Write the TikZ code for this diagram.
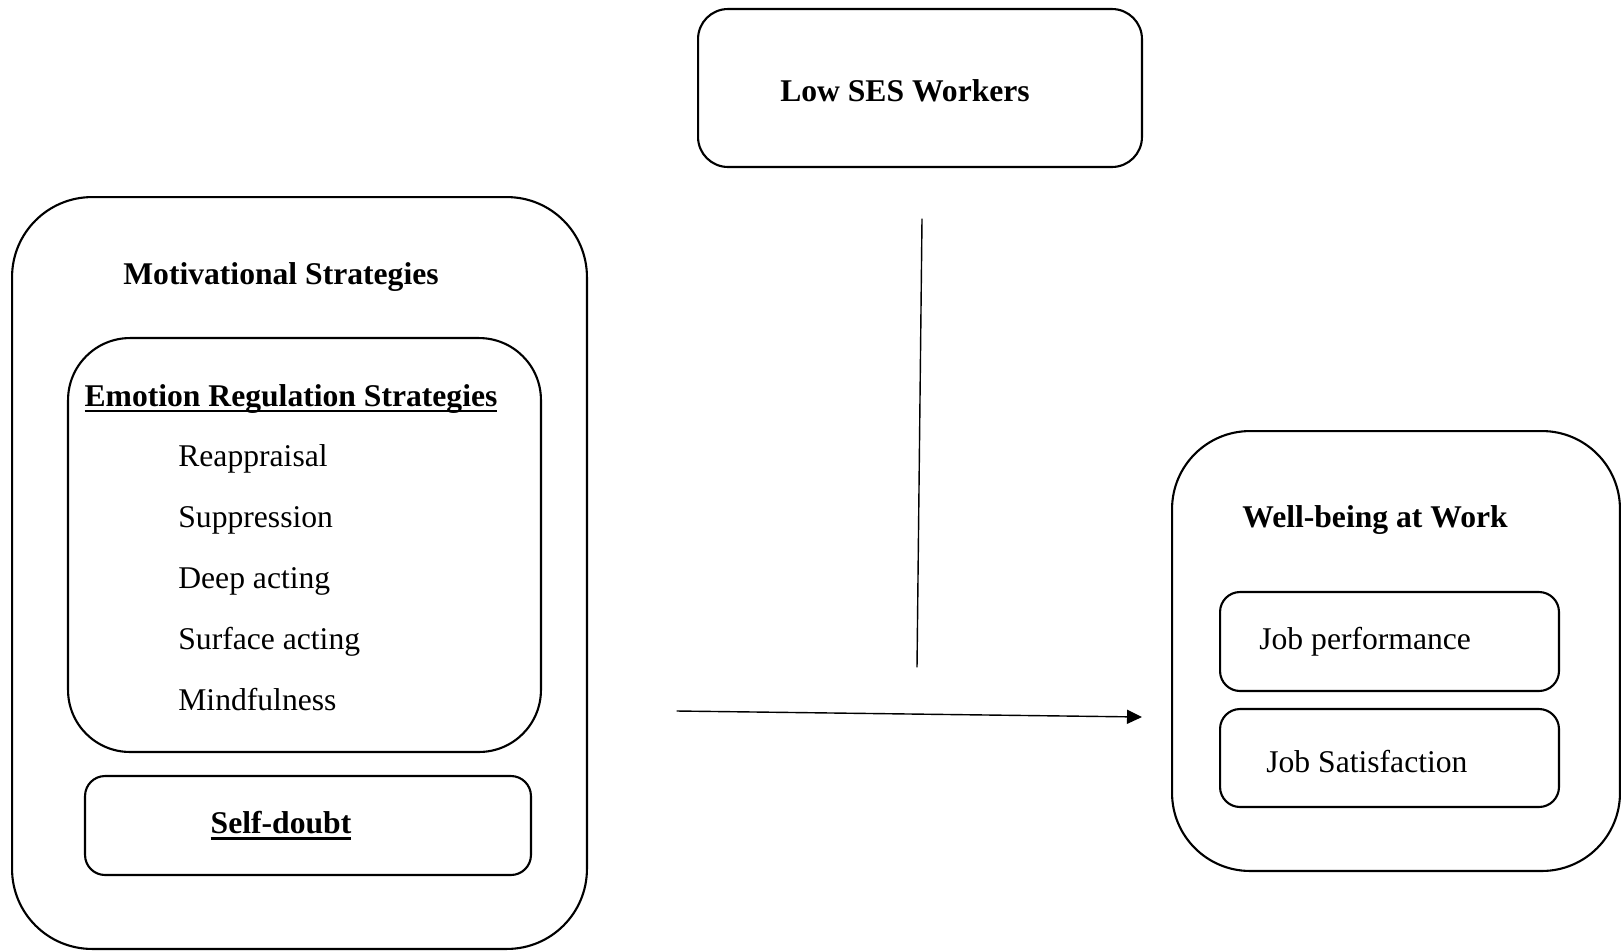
\documentclass[tikz,border=0pt]{standalone}
\usepackage{fontspec}
\setmainfont{Liberation Serif}
\usetikzlibrary{arrows.meta}
\newcommand\thickul[1]{\setbox0\hbox{#1}\rlap{\smash{\rule[-3.6pt]{\wd0}{1.5pt}}}\box0}
\begin{document}
\begin{tikzpicture}[x=0.02cm,y=-0.02cm,font=\fontsize{18}{22}\selectfont,line join=round,line cap=round,>={Triangle[length=0.3cm,width=0.28cm]},
	box/.style={draw,line width=1.2pt,inner sep=0pt},
	lbl/.style={inner sep=0pt,anchor=base,font=\fontsize{18}{22}\selectfont\bfseries},
	item/.style={inner sep=0pt,anchor=base west}]
	\useasboundingbox (0,0) rectangle (1621,951);
	% outer frames
	\node[box,rounded corners=1.6cm,minimum width=11.5cm,minimum height=15.04cm] (motiv) at (299.5,573) {};
	\node[box,rounded corners=1.24cm,minimum width=9.46cm,minimum height=8.28cm] (emo) at (304.5,545) {};
	\node[box,rounded corners=0.4cm,minimum width=8.92cm,minimum height=1.98cm] (selfd) at (308,825.5) {};
	\node[box,rounded corners=0.6cm,minimum width=8.88cm,minimum height=3.16cm] (ses) at (920,88) {};
	\node[box,rounded corners=1.56cm,minimum width=8.96cm,minimum height=8.8cm] (wb) at (1396,651) {};
	\node[box,rounded corners=0.4cm,minimum width=6.78cm,minimum height=1.98cm] (jp) at (1389.5,641.5) {};
	\node[box,rounded corners=0.4cm,minimum width=6.78cm,minimum height=1.96cm] (js) at (1389.5,758) {};
	% labels
	\node[lbl] (sestxt) at (905,101) {Low SES Workers};
	\node[lbl] (motivtxt) at (281,284.5) {Motivational Strategies};
	\node[lbl] (emotxt) at (291,406) {\thickul{Emotion Regulation Strategies}};
	\foreach \t [count=\i] in {Reappraisal,Suppression,Deep acting,Surface acting,Mindfulness}
		\node[item] (er\i) at (178,{405.5+61*\i}) {\t};
	\node[lbl] (selfdtxt) at (281,833.5) {\thickul{Self-doubt}};
	\node[lbl] (wbtxt) at (1375,527.5) {Well-being at Work};
	\node[item] (jptxt) at (1259,649.5) {Job performance};
	\node[item] (jstxt) at (1266,772) {Job Satisfaction};
	% connectors
	\coordinate (mtop) at (922,219);
	\coordinate (mbot) at (917,667);
	\coordinate (astart) at (677,711);
	\coordinate (aend) at (1142,717);
	\draw[line width=0.8pt] (mtop) -- (mbot);
	\draw[->,line width=0.8pt] (astart) -- (aend);
\end{tikzpicture}
\end{document}
